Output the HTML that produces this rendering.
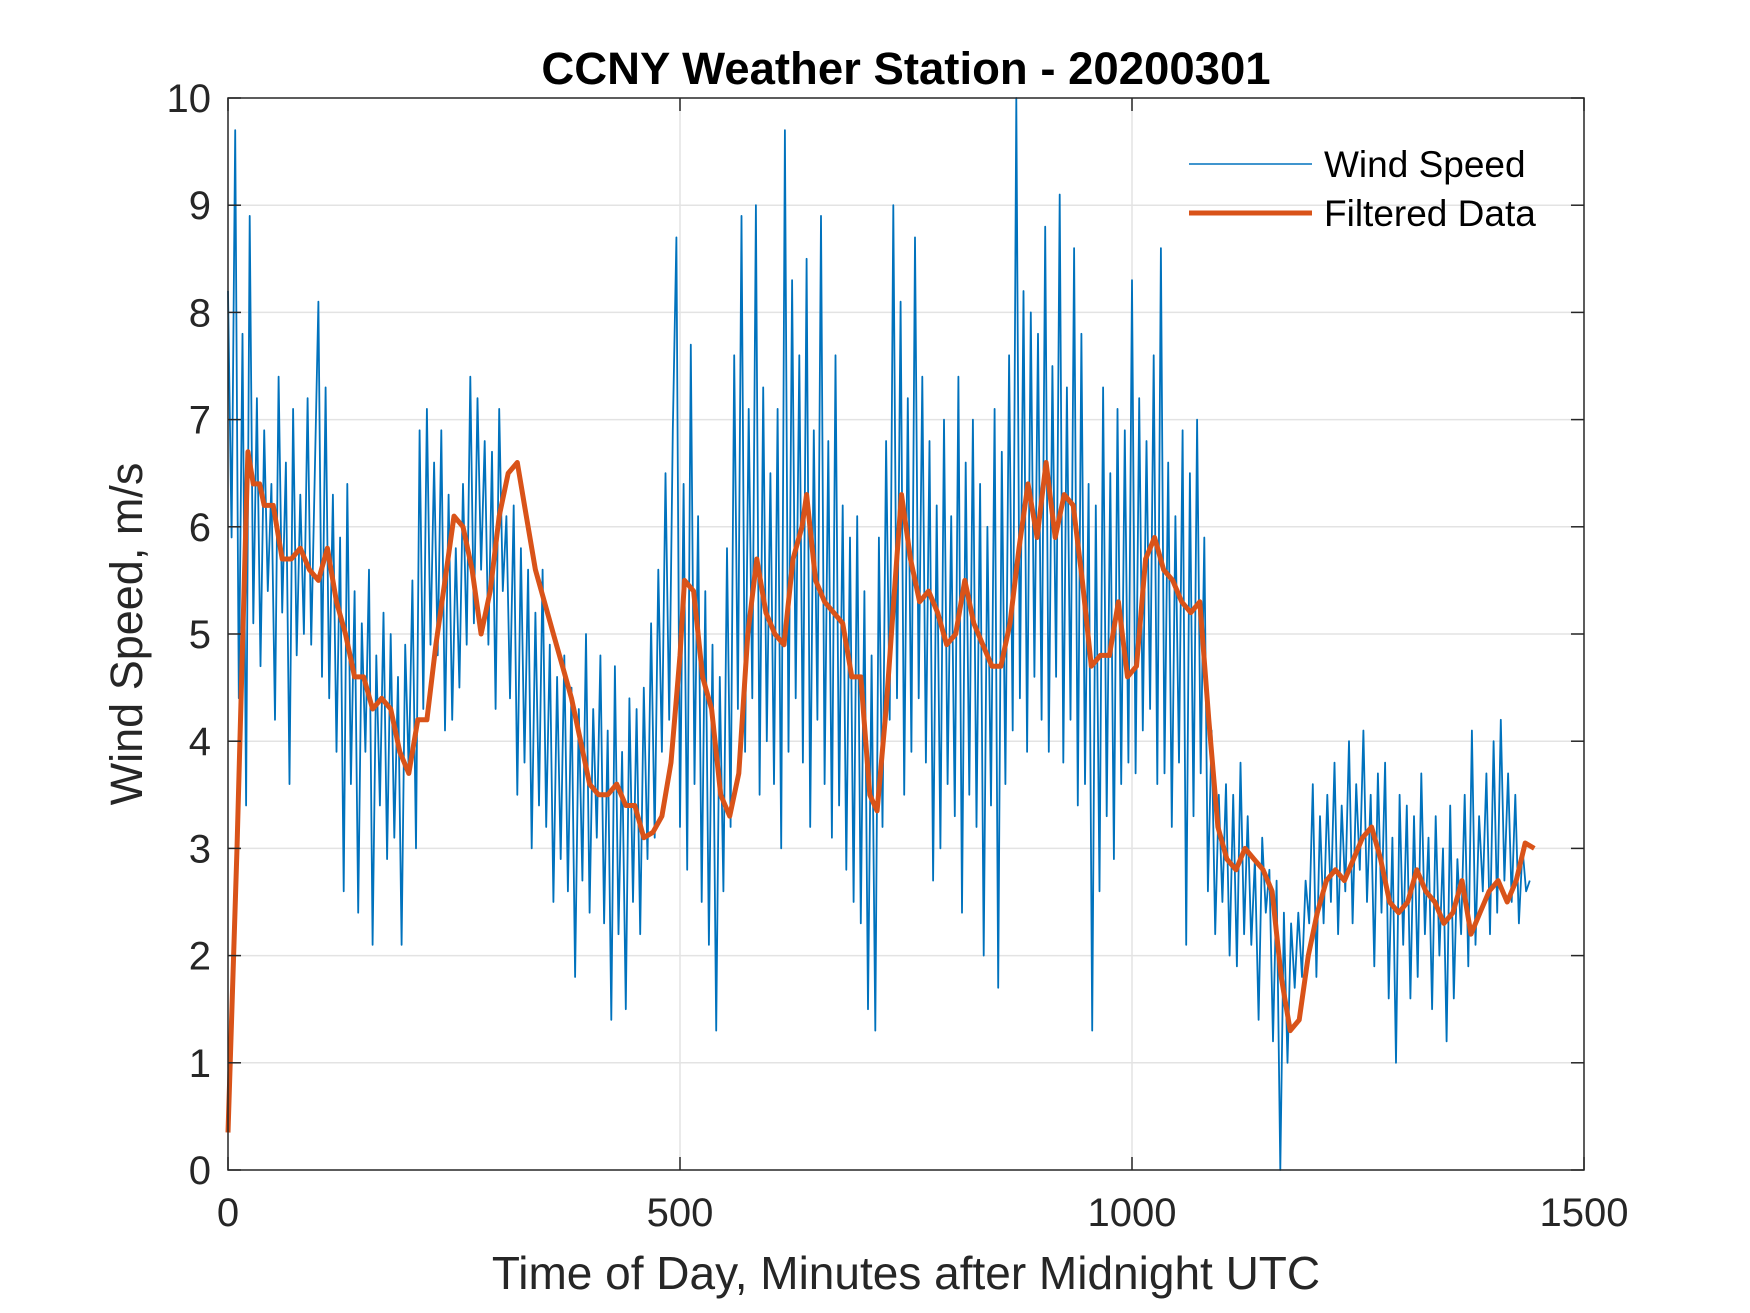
<!DOCTYPE html>
<html><head><meta charset="utf-8">
<style>
html,body{margin:0;padding:0;background:#fff;}
svg{display:block;font-family:"Liberation Sans",Arial,sans-serif;}
</style></head>
<body>
<svg id="chart" width="1750" height="1313" viewBox="0 0 1750 1313">
<rect x="0" y="0" width="1750" height="1313" fill="#fff"/>
<rect x="228" y="98" width="1356" height="1072" fill="#fff"/>
<g id="grid"></g>
<g id="series"></g>
<rect x="228" y="98" width="1356" height="1072" fill="none" stroke="#262626" stroke-width="1.5"/>
<g id="ticks"></g>
<text x="906" y="84" text-anchor="middle" font-size="45.5" font-weight="bold" fill="#000">CCNY Weather Station - 20200301</text>
<text x="906" y="1289" text-anchor="middle" font-size="46" fill="#262626">Time of Day, Minutes after Midnight UTC</text>
<text x="0" y="0" transform="translate(142,634) rotate(-90)" text-anchor="middle" font-size="45" fill="#262626">Wind Speed, m/s</text>
<g>
  <g>
    <line x1="1189" y1="164" x2="1312" y2="164" stroke="#0072BD" stroke-width="1.5"/>
    <text x="1324" y="177" font-size="37" fill="#000">Wind Speed</text>
  </g>
  <g>
    <line x1="1189" y1="213" x2="1312" y2="213" stroke="#D95319" stroke-width="5"/>
    <text x="1324" y="226" font-size="37" fill="#000">Filtered Data</text>
  </g>
</g>
</svg>
<script>
const xTicks = [0, 500, 1000, 1500];
const yTicks = [0,1,2,3,4,5,6,7,8,9,10];
const windStart = 0;
const windStep = 4;
const windValues = [
8.2,5.9,9.7,4.4,7.8,3.4,8.9,5.1,7.2,4.7,6.9,5.4,6.4,4.2,7.4,5.2,6.6,3.6,7.1,4.8,6.3,5.0,7.2,4.9,6.5,
8.1,4.6,7.3,4.4,6.3,3.9,5.9,2.6,6.4,3.6,5.4,2.4,5.1,3.9,5.6,2.1,4.8,3.4,5.2,2.9,5.0,3.1,4.6,2.1,4.9,
3.7,5.5,3.0,6.9,4.3,7.1,4.9,6.6,4.8,6.9,4.1,6.3,4.2,5.8,4.5,6.4,4.9,7.4,5.1,7.2,5.6,6.8,4.9,6.7,4.3,
7.1,5.4,6.1,4.4,6.2,3.5,5.8,3.8,5.6,3.0,5.2,3.4,5.6,3.2,4.9,2.5,4.6,2.9,4.8,2.6,4.5,1.8,4.3,2.7,5.0,
2.4,4.3,3.1,4.8,2.3,4.1,1.4,4.7,2.2,3.9,1.5,4.4,2.5,4.3,2.2,4.5,2.9,5.1,3.1,5.6,3.9,6.5,4.2,6.9,8.7,
3.2,6.4,2.8,7.7,3.6,6.1,2.5,5.4,2.1,4.9,1.3,4.6,2.6,5.8,3.2,7.6,4.3,8.9,3.9,7.1,4.4,9.0,3.5,7.3,4.0,
6.5,3.6,7.1,3.0,9.7,3.9,8.3,4.4,7.6,3.8,8.5,3.2,6.9,4.2,8.9,3.6,6.8,3.1,7.6,3.4,6.2,2.8,5.9,2.5,6.1,
2.3,5.4,1.5,4.8,1.3,5.9,3.2,6.8,4.2,9.0,4.4,8.1,3.5,7.2,3.9,8.7,4.4,7.4,3.8,6.8,2.7,6.2,3.0,7.0,3.6,
6.1,3.3,7.4,2.4,6.6,3.5,7.0,3.2,6.4,2.0,6.0,3.4,7.1,1.7,6.7,3.6,7.6,4.1,10.0,4.4,8.2,3.9,8.0,4.6,7.8,
4.2,8.8,3.9,7.5,4.6,9.1,3.8,7.3,4.2,8.6,3.4,7.8,3.6,6.4,1.3,6.2,2.6,7.3,3.3,6.5,2.9,7.1,3.6,6.9,3.8,
8.3,3.7,7.2,4.1,6.8,4.3,7.6,3.6,8.6,3.7,6.6,3.2,6.1,3.8,6.9,2.1,6.5,3.3,7.0,3.7,5.9,2.6,4.1,2.2,3.5,
2.5,3.6,2.0,3.5,1.9,3.8,2.2,3.3,2.1,2.9,1.4,3.1,2.4,2.8,1.2,2.7,0.0,2.4,1.0,2.3,1.7,2.4,1.8,2.7,2.3,
3.6,1.8,3.3,2.3,3.5,2.5,3.8,2.2,3.4,2.6,4.0,2.3,3.6,2.8,4.1,2.5,3.5,1.9,3.7,2.4,3.8,1.6,3.1,1.0,3.5,
2.1,3.4,1.6,3.3,1.8,3.7,2.2,3.1,1.5,3.3,2.0,3.0,1.2,3.4,1.6,2.9,2.2,3.5,1.9,4.1,2.1,3.3,2.6,3.7,2.2,
4.0,2.4,4.2,2.7,3.7,2.5,3.5,2.3,3.0,2.6,2.7
];
const filteredTimes = [0,10,18,22,28,35,40,50,60,70,80,90,100,110,120,130,140,150,160,170,180,190,200,210,220,230,240,250,260,270,280,290,300,310,320,330,340,350,360,370,380,390,400,410,420,430,440,450,460,470,480,490,500,505,515,525,535,545,555,565,575,585,595,605,615,625,635,640,650,660,670,680,690,700,710,718,728,738,745,755,765,775,785,795,805,815,825,835,845,855,865,875,885,895,905,915,925,935,945,955,965,975,985,995,1005,1015,1025,1035,1045,1055,1065,1075,1085,1095,1105,1115,1125,1135,1145,1155,1165,1175,1185,1195,1205,1215,1225,1235,1245,1255,1265,1275,1285,1295,1305,1315,1325,1335,1345,1355,1365,1375,1385,1395,1405,1415,1425,1435,1445];
const filteredValues = [0.35,3,5.5,6.7,6.4,6.4,6.2,6.2,5.7,5.7,5.8,5.6,5.5,5.8,5.3,5.0,4.6,4.6,4.3,4.4,4.3,3.9,3.7,4.2,4.2,4.9,5.5,6.1,6.0,5.6,5.0,5.4,6.1,6.5,6.6,6.1,5.6,5.3,5.0,4.7,4.4,4.0,3.6,3.5,3.5,3.6,3.4,3.4,3.1,3.15,3.3,3.8,4.8,5.5,5.4,4.6,4.3,3.5,3.3,3.7,5.0,5.7,5.2,5.0,4.9,5.7,6.0,6.3,5.5,5.3,5.2,5.1,4.6,4.6,3.5,3.35,4.3,5.5,6.3,5.7,5.3,5.4,5.2,4.9,5.0,5.5,5.1,4.9,4.7,4.7,5.1,5.8,6.4,5.9,6.6,5.9,6.3,6.2,5.5,4.7,4.8,4.8,5.3,4.6,4.7,5.7,5.9,5.6,5.5,5.3,5.2,5.3,4.2,3.2,2.9,2.8,3.0,2.9,2.8,2.6,1.8,1.3,1.4,2.0,2.4,2.7,2.8,2.7,2.9,3.1,3.2,2.9,2.5,2.4,2.5,2.8,2.6,2.5,2.3,2.4,2.7,2.2,2.4,2.6,2.7,2.5,2.7,3.05,3.0];

const X0=228, X1=1584, Y0=1170, Y1=98;
const xScale = v => X0 + (v-0)/(1500-0)*(X1-X0);
const yScale = v => Y0 - (v-0)/(10-0)*(Y0-Y1);
const NS='http://www.w3.org/2000/svg';
function mk(tag, attrs, parent){const e=document.createElementNS(NS,tag);for(const k in attrs)e.setAttribute(k,attrs[k]);parent.appendChild(e);return e;}

const grid=document.getElementById('grid'), ticks=document.getElementById('ticks'), series=document.getElementById('series');
xTicks.forEach(t=>{
  const x=xScale(t);
  if(t>0&&t<1500){
    const g=mk('line',{x1:x,y1:Y1,x2:x,y2:Y0,stroke:'#e3e3e3','stroke-width':1.5},grid);
    
    
  }
  mk('line',{x1:x,y1:Y0,x2:x,y2:Y0-13,stroke:'#262626','stroke-width':1.5},ticks);
  mk('line',{x1:x,y1:Y1,x2:x,y2:Y1+13,stroke:'#262626','stroke-width':1.5},ticks);
  const lb=mk('text',{x:x,y:1226,'text-anchor':'middle','font-size':40,fill:'#262626'},ticks);
  lb.textContent=t;
  
  
});
yTicks.forEach(t=>{
  const y=yScale(t);
  if(t>0&&t<10){
    const g=mk('line',{x1:X0,y1:y,x2:X1,y2:y,stroke:'#e3e3e3','stroke-width':1.5},grid);
    
    
  }
  mk('line',{x1:X0,y1:y,x2:X0+13,y2:y,stroke:'#262626','stroke-width':1.5},ticks);
  mk('line',{x1:X1,y1:y,x2:X1-13,y2:y,stroke:'#262626','stroke-width':1.5},ticks);
  const lb=mk('text',{x:211,y:y+14,'text-anchor':'end','font-size':40,fill:'#262626'},ticks);
  lb.textContent=t;
  
  
});
let d='';
windValues.forEach((v,i)=>{d+=(i?'L':'M')+xScale(windStart+i*windStep).toFixed(1)+','+yScale(v).toFixed(1);});
const wl=mk('path',{d:d,fill:'none',stroke:'#0072BD','stroke-width':1.8,'stroke-linejoin':'round'},series);


let d2='';
filteredValues.forEach((v,i)=>{d2+=(i?'L':'M')+xScale(filteredTimes[i]).toFixed(1)+','+yScale(v).toFixed(1);});
const fl=mk('path',{d:d2,fill:'none',stroke:'#D95319','stroke-width':5,'stroke-linejoin':'round'},series);


</script>
</body></html>
